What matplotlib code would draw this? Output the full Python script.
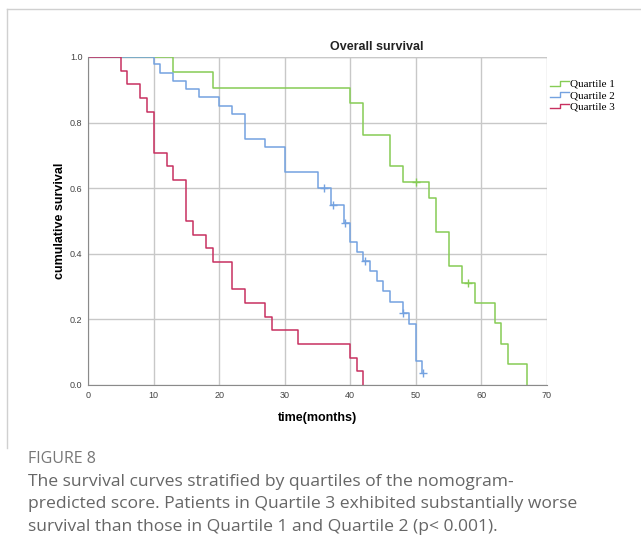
import numpy as np
import matplotlib
matplotlib.use("Agg")
import matplotlib.pyplot as plt
from matplotlib.lines import Line2D
from matplotlib.legend_handler import HandlerBase

# Kaplan-Meier steps (time in months, survival after the drop)
q1_t = [0, 13, 19, 40, 42, 46, 48, 52, 53, 55, 57, 59, 62, 63, 64, 67]
q1_s = [1.0, 0.953, 0.906, 0.859, 0.762, 0.668, 0.620, 0.569, 0.466, 0.363, 0.312, 0.249, 0.188, 0.125, 0.064, 0.0]
q1_cens_t = [50, 58]
q1_cens_s = [0.620, 0.312]

q2_t = [0, 10, 11, 13, 15, 17, 20, 22, 24, 27, 30, 35, 37, 39, 40, 41, 42, 43, 44, 45, 46, 48, 49, 50, 51]
q2_s = [1.0, 0.978, 0.950, 0.927, 0.901, 0.877, 0.852, 0.827, 0.751, 0.727, 0.650, 0.602, 0.549, 0.493,
        0.437, 0.406, 0.378, 0.348, 0.317, 0.287, 0.254, 0.220, 0.185, 0.074, 0.037]
q2_cens_t = [36, 37.3, 39.2, 42.2, 48.1, 51.1]
q2_cens_s = [0.602, 0.549, 0.493, 0.378, 0.220, 0.037]

q3_t = [0, 5, 6, 8, 9, 10, 12, 13, 15, 16, 18, 19, 22, 24, 27, 28, 32, 40, 41, 42]
q3_s = [1.0, 0.958, 0.917, 0.875, 0.833, 0.708, 0.667, 0.625, 0.500, 0.458, 0.417, 0.375, 0.292,
        0.250, 0.208, 0.167, 0.125, 0.083, 0.042, 0.0]

labels = ["Quartile 1", "Quartile 2", "Quartile 3"]
colors = ["#86cc55", "#74a2e0", "#c83060"]

fig = plt.figure(figsize=(6.41, 5.60), dpi=100)
ax = fig.add_axes([88/641, 1-385/560, (547-88)/641, (385-57)/560])

series = [(q1_t, q1_s, q1_cens_t, q1_cens_s), (q2_t, q2_s, q2_cens_t, q2_cens_s), (q3_t, q3_s, [], [])]
for (t, s, ct, cs), c, lab in zip(series, colors, labels):
    ax.step(t, s, where="post", color=c, lw=1.1, label=lab)
    if ct:
        ax.plot(ct, cs, "+", color=c, ms=6, mew=1.0)

ax.set_xlim(0, 70)
ax.set_ylim(0, 1.0)
ax.set_xticks(np.arange(0, 71, 10))
ax.set_yticks([0.0, 0.2, 0.4, 0.6, 0.8, 1.0])
ax.set_yticklabels(["0.0", "0.2", "0.4", "0.6", "0.8", "1.0"])
ax.tick_params(length=0, labelsize=6.5, labelcolor="#444444", pad=4)
for lab in ax.get_xticklabels() + ax.get_yticklabels():
    lab.set_fontfamily("Liberation Sans")
ax.grid(True, color="#c8c8c8", lw=1.0)
ax.set_axisbelow(True)
for side in ["top", "right"]:
    ax.spines[side].set_visible(False)
for side in ["left", "bottom"]:
    ax.spines[side].set_color("#8a8a8a")
ax.axhline(1.0, color="#c8c8c8", lw=1.0, zorder=0)

ax.set_xlabel("time(months)", fontsize=9, fontweight="bold", family="Liberation Sans", labelpad=9)
ax.set_ylabel("cumulative survival", fontsize=9, fontweight="bold", family="Liberation Sans", labelpad=3)
fig.text(377/641, 1-47/560, "Overall survival", ha="center", va="center", fontsize=9,
         fontweight="bold", family="Liberation Sans", color="#222222")


class StepHandler(HandlerBase):
    def create_artists(self, legend, orig, xd, yd, w, h, fs, trans):
        xs = [xd, xd + w*0.55, xd + w*0.55, xd + w]
        ys = [yd + h*0.15, yd + h*0.15, yd + h*0.75, yd + h*0.75]
        ln = Line2D(xs, ys, color=orig.get_color(), lw=1.0, transform=trans)
        return [ln]


handles = [h for h in ax.get_lines() if h.get_label() in labels]
leg = fig.legend(handles, labels, loc="upper left", bbox_to_anchor=(550/641, 1-79/560),
                 frameon=False, prop={"family": "Liberation Serif", "size": 8},
                 handler_map={Line2D: StepHandler()}, handlelength=1.7, handletextpad=0.1,
                 labelspacing=0.15, borderpad=0, borderaxespad=0)

# outer frame of the figure panel (top and left edges only)
fig.add_artist(Line2D([7/641, 1.0], [1-9/560, 1-9/560], transform=fig.transFigure, color="#d0d0d0", lw=1))
fig.add_artist(Line2D([7/641, 7/641], [1-9/560, 1-448/560], transform=fig.transFigure, color="#d0d0d0", lw=1))

fig.text(28/641, 1-459/560, "FIGURE 8", ha="left", va="center", fontsize=11.5, family="Open Sans",
         color="#777777")
caption = ["The survival curves stratified by quartiles of the nomogram-",
           "predicted score. Patients in Quartile 3 exhibited substantially worse",
           "survival than those in Quartile 1 and Quartile 2 (p< 0.001)."]
for i, line in enumerate(caption):
    fig.text(28/641, 1-(482+22.5*i)/560, line, ha="left", va="center", fontsize=12.6,
             family="Open Sans", color="#666666")

fig.savefig("out.png", dpi=100)
